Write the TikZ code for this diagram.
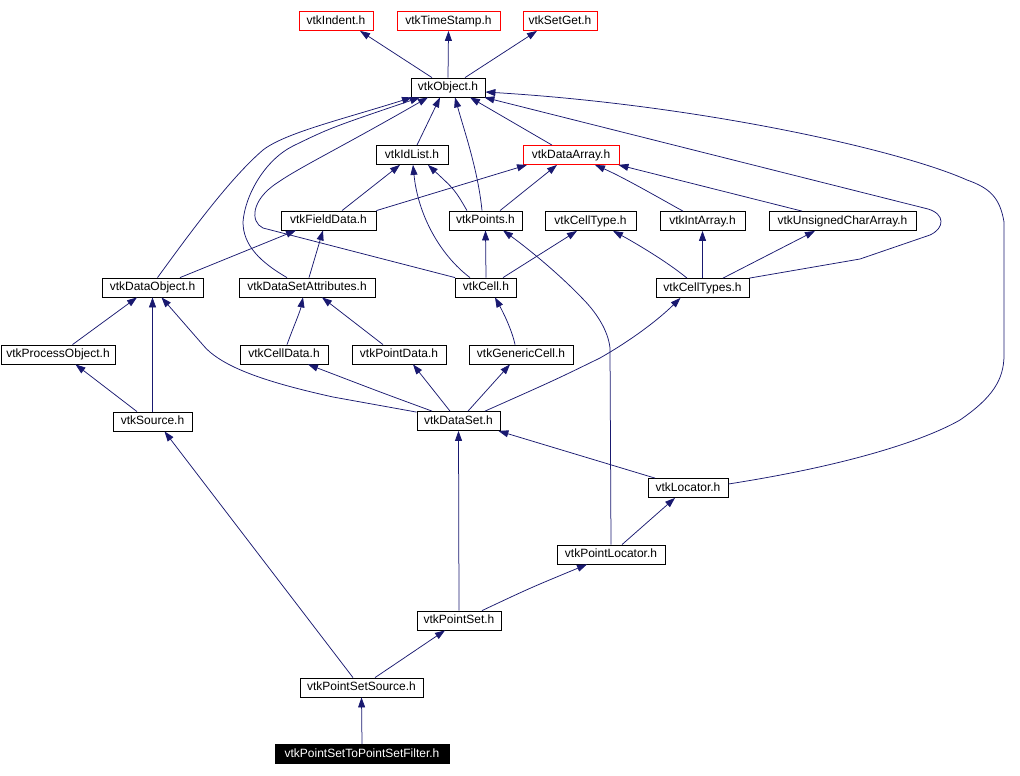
\documentclass[tikz,border=0pt]{standalone}
\usepackage{fontspec}
\setmainfont{Liberation Sans}
\usetikzlibrary{arrows.meta,calc}
\definecolor{edgec}{RGB}{25,25,112}
\begin{document}
\begin{tikzpicture}[x=1pt,y=-1pt,
  box/.style={draw=black,line width=0.8pt,fill=white,minimum height=19pt,inner sep=0pt,
    text height=8.8pt,text depth=2.4pt,font=\fontsize{12}{14}\selectfont},
  redbox/.style={box,draw=red},
  selbox/.style={box,fill=black,text=white},
  e/.style={draw=edgec,line width=0.75pt,-{Triangle[length=10pt,width=7pt]}}]
\useasboundingbox (0,0) rectangle (1020,776);
% nodes
\node[redbox,minimum width=74pt]  (indent)    at (336,21)    {vtkIndent.h};
\node[redbox,minimum width=103pt] (timestamp) at (448.5,21)  {vtkTimeStamp.h};
\node[redbox,minimum width=74pt]  (setget)    at (560,21)    {vtkSetGet.h};
\node[box,minimum width=74pt]     (object)    at (448,87.5)  {vtkObject.h};
\node[box,minimum width=72pt]     (idlist)    at (412,155)   {vtkIdList.h};
\node[redbox,minimum width=96pt]  (dataarray) at (571,155)   {vtkDataArray.h};
\node[box,minimum width=95pt]     (fielddata) at (328.5,220.5) {vtkFieldData.h};
\node[box,minimum width=73pt]     (points)    at (485.5,220.5) {vtkPoints.h};
\node[box,minimum width=91pt]     (celltype)  at (590.5,221) {vtkCellType.h};
\node[box,minimum width=85pt]     (intarray)  at (702.5,221) {vtkIntArray.h};
\node[box,minimum width=147pt]    (uchar)     at (842.5,221) {vtkUnsignedCharArray.h};
\node[box,minimum width=101pt]    (dataobject) at (152.5,287.5) {vtkDataObject.h};
\node[box,minimum width=136pt]    (dsattr)    at (307,287.5) {vtkDataSetAttributes.h};
\node[box,minimum width=61pt]     (cell)      at (486,287.5) {vtkCell.h};
\node[box,minimum width=93pt]     (celltypes) at (702.5,288) {vtkCellTypes.h};
\node[box,minimum width=114pt]    (procobj)   at (58,354.5)  {vtkProcessObject.h};
\node[box,minimum width=88pt]     (celldata)  at (284,354.5) {vtkCellData.h};
\node[box,minimum width=94pt]     (pointdata) at (399,354.5) {vtkPointData.h};
\node[box,minimum width=104pt]    (genericcell) at (521,354.5) {vtkGenericCell.h};
\node[box,minimum width=79pt]     (source)    at (152.5,421.5) {vtkSource.h};
\node[box,minimum width=83pt]     (dataset)   at (458.5,421) {vtkDataSet.h};
\node[box,minimum width=80pt]     (locator)   at (688,488)   {vtkLocator.h};
\node[box,minimum width=108pt]    (pointlocator) at (611,554.5) {vtkPointLocator.h};
\node[box,minimum width=84pt]     (pointset)  at (459,620.5) {vtkPointSet.h};
\node[box,minimum width=123pt]    (pssource)  at (361.5,687.5) {vtkPointSetSource.h};
\node[selbox,minimum width=174pt] (filter)    at (362,754)   {vtkPointSetToPointSetFilter.h};
% edges (child -> parent)
\draw[e] ([xshift=-16pt]object.north) -- ([xshift=24pt]indent.south);
\draw[e] (object.north) -- (timestamp.south);
\draw[e] ([xshift=17pt]object.north) -- ([xshift=-23pt]setget.south);
\draw[e] ([xshift=5pt]idlist.north) -- ([xshift=-8pt]object.south);
\draw[e] ([xshift=-19pt]dataarray.north) -- ([xshift=22pt]object.south);
\draw[e] ([xshift=13.5pt]fielddata.north) -- ([xshift=-12pt]idlist.south);
\draw[e] (fielddata.north east) -- ([xshift=-44pt]dataarray.south);
\draw[e] ([xshift=-18.5pt]points.north) .. controls (455,190) .. ([xshift=16pt]idlist.south);
\draw[e] ([xshift=14.5pt]points.north) -- ([xshift=-14pt]dataarray.south);
\draw[e] ([xshift=-3.5pt]points.north) .. controls (478,170) and (464,130) .. ([xshift=7pt]object.south);
\draw[e] ([xshift=-16pt]cell.north) .. controls (440,255) and (418,215) .. ([xshift=1pt]idlist.south);
\draw[e] (cell.north) -- (points.south);
\draw[e] ([xshift=17pt]cell.north) -- ([xshift=-13.5pt]celltype.south);
\draw[e] (cell.north west) -- (263,228) .. controls (250,222) and (251,200) .. (277,183)
   .. controls (300,167) and (340,148) .. ([xshift=-20pt]object.south);
\draw[e] ([xshift=2pt]dsattr.north) -- ([xshift=-5.5pt]fielddata.south);
\draw[e] ([xshift=-20pt]dsattr.north) .. controls (260,262) and (243,245) .. (243,222)
   .. controls (245,195) and (265,160) .. (293,146) .. controls (330,128) .. ([xshift=-28pt]object.south);
\draw[e] ([xshift=27.5pt]dataobject.north) -- ([xshift=-32.5pt]fielddata.south);
\draw[e] ([xshift=5pt]dataobject.north) .. controls (185,240) and (228,180) .. (263,150)
   .. controls (285,133) and (340,120) .. ([xshift=-36pt]object.south);
\draw[e] ([xshift=-19.5pt]intarray.north) .. controls (668,203) and (625,178) .. ([xshift=24pt]dataarray.south);
\draw[e] ([xshift=-40.5pt]uchar.north) -- ([xshift=-1pt]dataarray.south east);
\draw[e] ([xshift=-15.5pt]celltypes.north) .. controls (665,260) and (630,240) .. ([xshift=22.5pt]celltype.south);
\draw[e] (celltypes.north) -- (intarray.south);
\draw[e] ([xshift=20.5pt]celltypes.north) -- ([xshift=-27.5pt]uchar.south);
\draw[e] (celltypes.north east) -- (860,259) -- (930,235) .. controls (945,228) and (945,214) .. (928,209)
   -- ([xshift=-1pt]object.south east);
\draw[e] ([xshift=-6pt]genericcell.north) .. controls (512,330) and (503,312) .. ([xshift=9pt]cell.south);
\draw[e] ([xshift=14.5pt]procobj.north) -- ([xshift=-15.5pt]dataobject.south);
\draw[e] ([xshift=3pt]celldata.north) .. controls (293,328) and (300,312) .. ([xshift=-4pt]dsattr.south);
\draw[e] ([xshift=-16pt]pointdata.north) -- ([xshift=15pt]dsattr.south);
\draw[e] ([xshift=-15.5pt]source.north) -- ([xshift=17.5pt]procobj.south);
\draw[e] (source.north) -- (dataobject.south);
\draw[e] ([yshift=-1pt]dataset.north west) -- (333,397) .. controls (270,383) and (222,368) .. (203,345)
   -- ([xshift=9pt]dataobject.south);
\draw[e] ([xshift=-26.5pt]dataset.north) .. controls (380,392) .. ([xshift=24pt]celldata.south);
\draw[e] ([xshift=-8.5pt]dataset.north) -- ([xshift=14pt]pointdata.south);
\draw[e] ([xshift=9.5pt]dataset.north) -- ([xshift=-11pt]genericcell.south);
\draw[e] ([xshift=26.5pt]dataset.north) .. controls (555,380) .. (600,358)
   .. controls (635,338) and (660,318) .. ([xshift=-22pt]celltypes.south);
\draw[e] ([xshift=-33pt]locator.north) -- ([xshift=-2pt]dataset.south east);
\draw[e] ([yshift=4pt]locator.east) .. controls (850,465) and (925,440) .. (960,420)
   .. controls (992,398) and (1004,380) .. (1004,355) -- (1004,222)
   .. controls (1000,198) and (990,188) .. (967,180)
   .. controls (900,150) and (700,105) .. ([yshift=-4.5pt]object.east);
\draw[e] ([xshift=11pt]pointlocator.north) -- ([xshift=-13pt]locator.south);
\draw[e] (pointlocator.north) -- (610,348) .. controls (608,330) and (596,312) .. (582,298)
   .. controls (560,275) and (530,250) .. ([xshift=17.5pt]points.south);
\draw[e] (pointset.north) -- (dataset.south);
\draw[e] ([xshift=23pt]pointset.north) .. controls (530,588) .. ([xshift=-24pt]pointlocator.south);
\draw[e] ([xshift=13.5pt]pssource.north) -- ([xshift=-14pt]pointset.south);
\draw[e] ([xshift=-8.5pt]pssource.north) -- ([xshift=12pt]source.south);
\draw[e] (filter.north) -- (pssource.south);
\end{tikzpicture}
\end{document}
